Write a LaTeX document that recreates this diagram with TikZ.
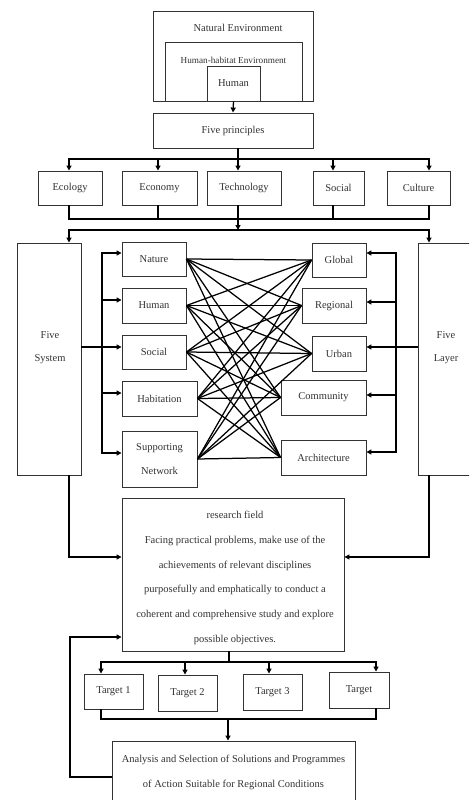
\documentclass[tikz,border=0pt]{standalone}
\usepackage{fontspec}
\setmainfont{Liberation Serif}
\usetikzlibrary{arrows.meta}
\begin{document}
\begin{tikzpicture}[x=1pt,y=-1pt,
  box/.style={draw=black!80,line width=0.9pt,inner sep=0pt,text=black!80,font=\fontsize{10.5}{12}\selectfont},
  lbl/.style={inner sep=0pt,text=black!80,align=center},
  conn/.style={line width=1.3pt,black,line cap=rect},
  arr/.style={line width=1.3pt,black,-{Triangle[length=5pt,width=5pt]}},
  web/.style={line width=1.25pt,black}]
\useasboundingbox (0,0) rectangle (469,800);
\clip (0,0) rectangle (469,800);
\fill[white] (0,0) rectangle (469,800);

% top nested boxes
\node[box,minimum width=160pt,minimum height=90pt] (nat) at (233,56) {};
\node[box,minimum width=137pt,minimum height=59pt] (hab0) at (233.5,71.5) {};
\node[box,minimum width=53pt,minimum height=35pt] (hum0) at (233.5,83.5) {Human};
\node[lbl,font=\fontsize{10.5}{12}\selectfont] (natT) at (238,28) {Natural Environment};
\node[lbl,font=\fontsize{9.2}{10}\selectfont] (habT) at (233.5,60) {Human-habitat Environment};
\node[box,minimum width=160pt,minimum height=35pt] (fiveP) at (233,130.5) {Five principles};
\draw[arr] (hum0.south) -- (fiveP.north);

% five principles row
\node[box,minimum width=64pt,minimum height=34pt] (ecol) at (70,188) {Ecology};
\node[box,minimum width=75pt,minimum height=34pt] (econ) at (159.5,188) {Economy};
\node[box,minimum width=74pt,minimum height=34pt] (tech) at (244,188) {Technology};
\node[box,minimum width=51pt,minimum height=34pt] (socP) at (338.5,188) {Social};
\node[box,minimum width=63pt,minimum height=34pt] (cult) at (418.5,188) {Culture};

\coordinate (pA1) at (69,159);
\coordinate (pA2) at (158,159);
\coordinate (pA3) at (238,159);
\coordinate (pA4) at (333,159);
\coordinate (pA5) at (429,159);
\draw[conn] (fiveP.south -| pA3) -- (pA3);
\draw[conn] (pA1) -- (pA5);
\draw[arr] (pA1) -- (pA1 |- ecol.north);
\draw[arr] (pA2) -- (pA2 |- econ.north);
\draw[arr] (pA3) -- (pA3 |- tech.north);
\draw[arr] (pA4) -- (pA4 |- socP.north);
\draw[arr] (pA5) -- (pA5 |- cult.north);

\coordinate (pB1) at (69,219);
\coordinate (pB2) at (158,219);
\coordinate (pB3) at (238,219);
\coordinate (pB4) at (333,219);
\coordinate (pB5) at (429,219);
\draw[conn] (ecol.south -| pB1) -- (pB1) -- (pB5) -- (cult.south -| pB5);
\draw[conn] (econ.south -| pB2) -- (pB2);
\draw[conn] (tech.south -| pB3) -- (pB3);
\draw[conn] (socP.south -| pB4) -- (pB4);

\coordinate (pC1) at (69,230);
\coordinate (pC3) at (238,230);
\coordinate (pC5) at (429,230);
\draw[arr] (pB3) -- (pC3);
\draw[conn] (pC1) -- (pC5);

% five system / five layer
\node[box,minimum width=64pt,minimum height=232pt] (fsys) at (49,359) {};
\node[lbl,font=\fontsize{10.5}{23}\selectfont] (fsysT) at (50,348) {Five\\System};
\node[box,minimum width=56pt,minimum height=232pt] (flay) at (446,359) {};
\node[lbl,font=\fontsize{10.5}{23}\selectfont] (flayT) at (446,348) {Five\\Layer};
\draw[arr] (pC1) -- (pC1 |- fsys.north);
\draw[arr] (pC5) -- (pC5 |- flay.north);

% left column
\node[box,minimum width=64pt,minimum height=34pt] (natr) at (154,259) {Nature};
\node[box,minimum width=64pt,minimum height=35pt] (humn) at (154,305.5) {Human};
\node[box,minimum width=64pt,minimum height=34pt] (socl) at (154,352) {Social};
\node[box,minimum width=75pt,minimum height=35pt] (habt) at (159.5,398.5) {Habitation};
\node[box,minimum width=75pt,minimum height=56pt,align=center,font=\fontsize{10.5}{24}\selectfont] (supp) at (159.5,459) {Supporting\\Network};

% right column
\node[box,minimum width=54pt,minimum height=34pt] (glob) at (339,260) {Global};
\node[box,minimum width=64pt,minimum height=35pt] (regn) at (334,305.5) {Regional};
\node[box,minimum width=54pt,minimum height=35pt] (urbn) at (339,353.5) {Urban};
\node[box,minimum width=85pt,minimum height=35pt] (comm) at (323.5,397.5) {Community};
\node[box,minimum width=85pt,minimum height=35pt] (arch) at (323.5,457.5) {Architecture};

% left branch
\coordinate (l1) at (102,253);
\coordinate (l2) at (102,300);
\coordinate (l3) at (102,347);
\coordinate (l4) at (102,393);
\coordinate (l5) at (102,453);
\draw[conn] (fsys.east |- l3) -- (l3);
\draw[conn] (l1) -- (l5);
\draw[arr] (l1) -- (l1 -| natr.west);
\draw[arr] (l2) -- (l2 -| humn.west);
\draw[arr] (l3) -- (l3 -| socl.west);
\draw[arr] (l4) -- (l4 -| habt.west);
\draw[arr] (l5) -- (l5 -| supp.west);

% right branch
\coordinate (r1) at (396,253);
\coordinate (r2) at (396,302);
\coordinate (r3) at (396,347);
\coordinate (r4) at (396,395);
\coordinate (r5) at (396,452);
\draw[conn] (flay.west |- r3) -- (r3);
\draw[conn] (r1) -- (r5);
\draw[arr] (r1) -- (r1 -| glob.east);
\draw[arr] (r2) -- (r2 -| regn.east);
\draw[arr] (r3) -- (r3 -| urbn.east);
\draw[arr] (r4) -- (r4 -| comm.east);
\draw[arr] (r5) -- (r5 -| arch.east);

% web
\foreach \a in {natr,humn,socl,habt,supp}
  \foreach \b in {glob,regn,urbn,comm,arch}
    \draw[web] (\a.east) -- (\b.west);

% research field
\node[box,minimum width=222pt,minimum height=153pt] (res) at (233,574.5) {};
\node[lbl,font=\fontsize{10.5}{24.8}\selectfont] (resT) at (235,578) {research field\\
Facing practical problems, make use of the\\
achievements of relevant disciplines\\
purposefully and emphatically to conduct a\\
coherent and comprehensive study and explore\\
possible objectives.};

\coordinate (q1) at (69,557);
\coordinate (q2) at (429,557);
\draw[arr] (fsys.south -| q1) -- (q1) -- (q1 -| res.west);
\draw[arr] (flay.south -| q2) -- (q2) -- (q2 -| res.east);

% targets
\node[box,minimum width=59pt,minimum height=35pt] (t1) at (113.5,691.5) {Target 1};
\node[box,minimum width=59pt,minimum height=36pt] (t2) at (187.5,693) {Target 2};
\node[box,minimum width=59pt,minimum height=36pt] (t3) at (272.5,692) {Target 3};
\node[box,minimum width=60pt,minimum height=36pt] (t4) at (359,690) {Target};

\coordinate (s0) at (229,662);
\coordinate (s1) at (101,662);
\coordinate (s2) at (185,662);
\coordinate (s3) at (269,662);
\coordinate (s4) at (376,662);
\draw[conn] (res.south -| s0) -- (s0);
\draw[conn] (s1) -- (s4);
\draw[arr] (s1) -- (s1 |- t1.north);
\draw[arr] (s2) -- (s2 |- t2.north);
\draw[arr] (s3) -- (s3 |- t3.north);
\draw[arr] (s4) -- (s4 |- t4.north);

% analysis
\node[box,minimum width=243pt,minimum height=72pt] (ana) at (233.5,777) {};
\node[lbl,font=\fontsize{10.5}{25}\selectfont] (anaT) at (233.5,772) {Analysis and Selection of Solutions and Programmes\\of Action Suitable for Regional Conditions};

\coordinate (u1) at (101,719);
\coordinate (u0) at (228,719);
\coordinate (u4) at (376,719);
\draw[conn] (t1.south -| u1) -- (u1) -- (u4) -- (t4.south -| u4);
\draw[arr] (u0) -- (u0 |- ana.north);

\coordinate (v1) at (70,777);
\coordinate (v2) at (70,637);
\draw[arr] (ana.west |- v1) -- (v1) -- (v2) -- (v2 -| res.west);
\end{tikzpicture}
\end{document}
